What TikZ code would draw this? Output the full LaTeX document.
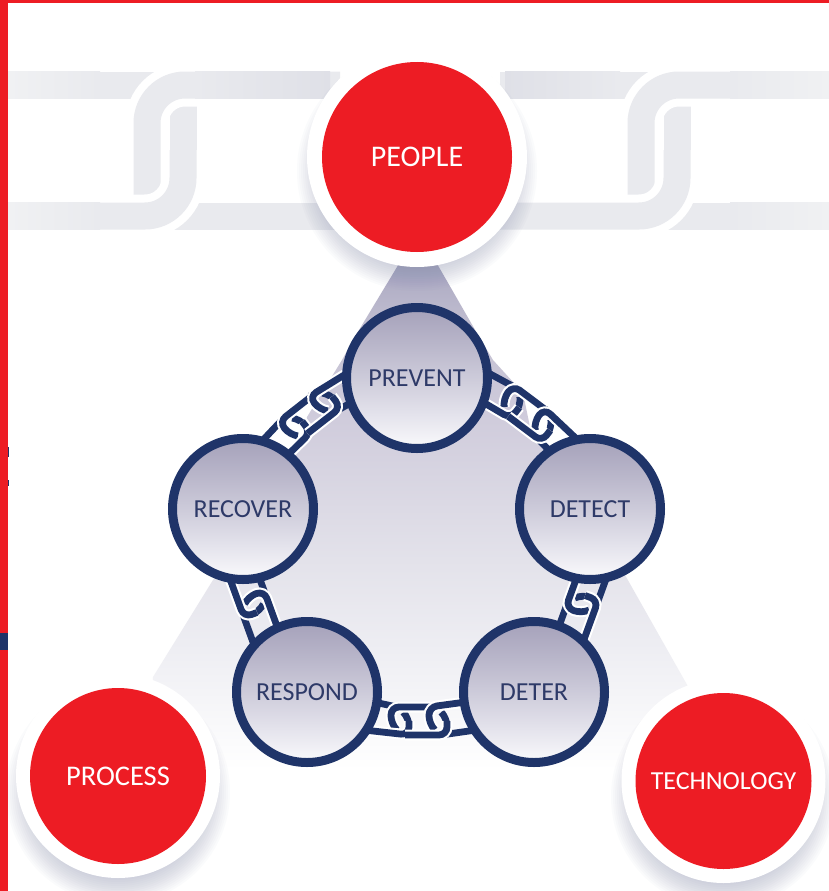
\documentclass[tikz,border=0pt]{standalone}
\usepackage{fontspec}
\setmainfont{Carlito}
\definecolor{brandred}{HTML}{ED1C24}
\definecolor{navy}{HTML}{1F3469}
\definecolor{navytext}{HTML}{2E3A68}
\definecolor{chaingrey}{HTML}{E9EAEE}
\definecolor{chainlight}{HTML}{F0F1F3}
\definecolor{chaindark}{HTML}{DFE0E7}
\definecolor{shadowc}{HTML}{7F86A8}
\definecolor{pA}{HTML}{A9A7C0}\definecolor{pB}{HTML}{C3C0D2}\definecolor{pC}{HTML}{D0CCDC}
\definecolor{pD}{HTML}{E3E2EA}\definecolor{pE}{HTML}{EEEEF3}
\definecolor{dA}{HTML}{A5A1BA}\definecolor{dB}{HTML}{B9B6CA}\definecolor{dC}{HTML}{CDCBDA}
\definecolor{dD}{HTML}{E4E3EC}\definecolor{dE}{HTML}{FAFAFC}
\pgfdeclareverticalshading{pentshade}{100bp}{color(0bp)=(white); color(25bp)=(white); color(36.8bp)=(pE); color(45.7bp)=(pD); color(59.4bp)=(pC); color(68.3bp)=(pB); color(75bp)=(pA); color(100bp)=(pA)}
\pgfdeclareverticalshading{discshade}{100bp}{color(0bp)=(dE); color(25bp)=(dE); color(37bp)=(dD); color(50bp)=(dC); color(62bp)=(dB); color(75bp)=(dA); color(100bp)=(dA)}
\tikzset{
  lk/.style={draw=navy,line width=6.8pt,rounded corners=8pt},
  lkh/.style={draw=white,line width=11pt,rounded corners=8pt},
  gb/.style={draw=chaingrey,line width=27pt,rounded corners=38pt},
  gh/.style={draw=white,line width=43pt,rounded corners=38pt},
  stage/.style={circle,shade,shading=discshade,draw=navy,line width=9pt,minimum size=141pt,inner sep=0pt,outer sep=0pt,text=navytext,font=\fontsize{26}{28}\selectfont},
  ring/.style={circle,fill=white,inner sep=0pt,outer sep=0pt},
  redbig/.style={circle,fill=brandred,inner sep=0pt,outer sep=0pt,text=white},
}
% one grey interlock: #1 x-shift, #2 left end, #3 right end
\newcommand\greyS[3]{
  \begin{scope}[shift={(#1,0)}]
    \draw[gb] (#2,85) -- (156,85);
    \draw[gb] (172,216) -- (#3,216);
    \draw[gb] (183,150) -- (183,92);
    \draw[gh] (#3,85) -- (147,85) -- (147,190);
    \draw[gb] (#3,85) -- (147,85) -- (147,205);
    \draw[gh] (#2,216) -- (183,216) -- (183,150);
    \draw[gb] (#2,216) -- (183,216) -- (183,150);
  \end{scope}
}
% one navy interlock
\newcommand\smallS[9]{
  \begin{scope}[shift={(#1,#2)},rotate=#3]
    \draw[lk] (-#4,-14+#8) -- (-3,-14);
    \draw[lk] (3,14) -- (#7,14+#9);
    \draw[lk] (9,1) -- (9,-3) -- (5,-7);
    \draw[lkh] (#5,-14+#9) -- (-9,-14) -- (-9,3) -- (-5,7);
    \draw[lk] (#5,-14+#9) -- (-9,-14) -- (-9,3) -- (-5,7);
    \draw[lkh] (-#6,14+#8) -- (9,14) -- (9,0);
    \draw[lk] (-#6,14+#8) -- (9,14) -- (9,0);
  \end{scope}
}
\newcommand\softshadow[3]{
  \foreach \rr in {0,2,...,24}{
    \fill[shadowc,opacity=.03] (#1,#2) circle ({#3+\rr});
  }
}
\begin{document}
\begin{tikzpicture}[x=1pt,y=-1pt]
\useasboundingbox (0,0) rectangle (829,891);
\fill[white] (0,0) rectangle (829,891);
% big grey chain
\greyS{0}{0}{340}
\greyS{494}{6}{335}
\shade[left color=chaingrey,right color=chaindark] (195,71.5) rectangle (330,98.5);
\shade[left color=chaindark,right color=chaingrey] (505,71.5) rectangle (620,98.5);
\shade[left color=chainlight,right color=chaingrey] (8,71.5) rectangle (100,98.5);
\shade[left color=chainlight,right color=chaingrey] (8,202.5) rectangle (100,229.5);
\shade[left color=chaingrey,right color=chainlight] (730,71.5) rectangle (829,98.5);
\shade[left color=chaingrey,right color=chainlight] (730,202.5) rectangle (829,229.5);
% pentagon
\shade[shading=pentshade] (400,262) -- (436,262) -- (478,335) -- (493,360) -- (523,393) -- (530,427) -- (545,450)
  -- (625,575) -- (690,690) -- (690,770) -- (150,770) -- (153,677) -- (213,580) -- (290,450)
  -- (300,440) -- (307,417) -- (342,360) -- (356,335) -- cycle;
% shadows
\softshadow{417}{171}{96}
\softshadow{118}{792}{88}
\softshadow{723}{797}{88}
% large rings and circles
\node[ring,minimum size=220pt] (peopleRing) at (417,157) {};
\node[ring,minimum size=204pt] (processRing) at (118,776) {};
\node[ring,minimum size=204pt] (techRing) at (723.5,781) {};
\node[redbig,minimum size=190pt,font=\fontsize{30}{32}\selectfont] (people) at (417,157) {\raisebox{-1pt}{PEOPLE}};
\node[redbig,minimum size=176pt,font=\fontsize{28.5}{30}\selectfont] (process) at (118,776) {\raisebox{-1pt}{PROCESS}};
\node[redbig,minimum size=176pt,font=\fontsize{26}{28}\selectfont] (technology) at (723.5,781) {\raisebox{-1pt}{TECHNOLOGY}};
% navy chain
\smallS{512}{402}{-37}{36}{30}{36}{8}{5}{0}
\smallS{543}{425}{-37}{8}{36}{33}{36}{0}{5}
\smallS{295}{427}{38}{36}{30}{36}{8}{5}{0}
\smallS{325}{402}{38}{8}{36}{33}{36}{0}{5}
\smallS{400}{721}{0}{26}{30}{36}{8}{-5}{0}
\smallS{438}{721}{0}{8}{28}{33}{38}{0}{-5}
\smallS{254}{604}{-70}{30}{34}{30}{46}{0}{0}
\smallS{582}{604}{70}{32}{30}{42}{32}{0}{0}
% stages
\node[stage] (prevent) at (417,378) {\raisebox{-1pt}{PREVENT}};
\node[stage] (detect) at (590,509) {\raisebox{-1pt}{DETECT}};
\node[stage] (deter) at (534,692) {\raisebox{-1pt}{DETER}};
\node[stage] (respond) at (307,692) {\raisebox{-1pt}{RESPOND}};
\node[stage] (recover) at (243,509) {\raisebox{-1pt}{RECOVER}};
% frame
\fill[brandred] (0,0) rectangle (829,3);
\fill[brandred] (0,0) rectangle (8,891);
\fill[navy] (0,633) rectangle (8,650);
\fill[navy] (8,447) rectangle (9,457);
\fill[navy] (8,480) rectangle (9,486);
\end{tikzpicture}
\end{document}
